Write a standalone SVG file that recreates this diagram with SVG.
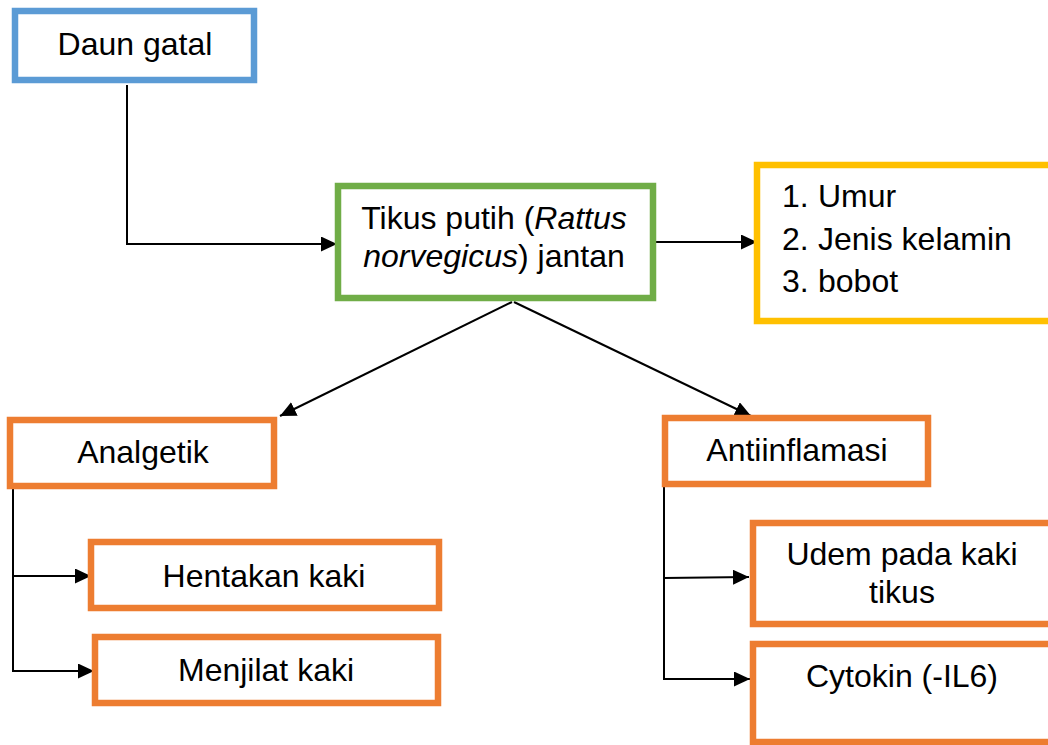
<svg xmlns="http://www.w3.org/2000/svg" width="1048" height="745" viewBox="0 0 1048 745">
  <style>
    .box { fill: #ffffff; stroke-width: 6.5; }
    .blue { stroke: #5B9BD5; }
    .green { stroke: #70AD47; }
    .yellow { stroke: #FFC000; }
    .orange { stroke: #ED7D31; }
    .lbl { font-family: "Liberation Sans", Arial, sans-serif; font-size: 32px; fill: #000000; }
    .mid { text-anchor: middle; }
    .link { fill: none; stroke: #000000; stroke-width: 2; }
  </style>
  <defs>
    <marker id="arrow" markerUnits="userSpaceOnUse" markerWidth="17" markerHeight="16" refX="16" refY="7.5" orient="auto">
      <path d="M0,0 L16,7.5 L0,15 z" fill="#000000"/>
    </marker>
  </defs>
  <rect width="1048" height="745" fill="#ffffff"/>

  <g id="connectors">
    <polyline class="link" points="127,85 127,244 337,244" marker-end="url(#arrow)"/>
    <line class="link" x1="656" y1="242" x2="757" y2="242" marker-end="url(#arrow)"/>
    <line class="link" x1="512" y1="302" x2="280" y2="416" marker-end="url(#arrow)"/>
    <line class="link" x1="514" y1="302" x2="751" y2="416" marker-end="url(#arrow)"/>
    <polyline class="link" points="13,487 13,672"/>
    <line class="link" x1="13" y1="576" x2="91" y2="576" marker-end="url(#arrow)"/>
    <line class="link" x1="13" y1="671" x2="94" y2="671" marker-end="url(#arrow)"/>
    <polyline class="link" points="664,487 664,680"/>
    <line class="link" x1="664" y1="578" x2="749" y2="577" marker-end="url(#arrow)"/>
    <line class="link" x1="664" y1="679" x2="750" y2="679" marker-end="url(#arrow)"/>
  </g>

  <g id="daun-gatal">
    <rect class="box blue" x="15" y="11" width="239" height="69"/>
    <text class="lbl mid" x="135" y="55">Daun gatal</text>
  </g>

  <g id="tikus-putih">
    <rect class="box green" x="338" y="186" width="315" height="112"/>
    <text class="lbl mid" x="494" y="229">Tikus putih (<tspan font-style="italic">Rattus</tspan></text>
    <text class="lbl mid" x="494" y="267"><tspan font-style="italic">norvegicus</tspan>) jantan</text>
  </g>

  <g id="variabel">
    <rect class="box yellow" x="757" y="165" width="300" height="156"/>
    <text class="lbl" x="782" y="207">1.</text>
    <text class="lbl" x="818" y="207">Umur</text>
    <text class="lbl" x="782" y="250">2.</text>
    <text class="lbl" x="818" y="250">Jenis kelamin</text>
    <text class="lbl" x="782" y="292">3.</text>
    <text class="lbl" x="818" y="292">bobot</text>
  </g>

  <g id="analgetik">
    <rect class="box orange" x="10" y="420" width="264" height="66"/>
    <text class="lbl mid" x="143" y="463">Analgetik</text>
  </g>

  <g id="hentakan-kaki">
    <rect class="box orange" x="91" y="542" width="348" height="66"/>
    <text class="lbl mid" x="264" y="587">Hentakan kaki</text>
  </g>

  <g id="menjilat-kaki">
    <rect class="box orange" x="95" y="637" width="343" height="66"/>
    <text class="lbl mid" x="266" y="681">Menjilat kaki</text>
  </g>

  <g id="antiinflamasi">
    <rect class="box orange" x="665" y="418" width="263" height="66"/>
    <text class="lbl mid" x="797" y="461">Antiinflamasi</text>
  </g>

  <g id="udem">
    <rect class="box orange" x="753" y="523" width="304" height="101"/>
    <text class="lbl mid" x="902" y="565">Udem pada kaki</text>
    <text class="lbl mid" x="902" y="603">tikus</text>
  </g>

  <g id="cytokin">
    <rect class="box orange" x="753" y="644" width="304" height="98"/>
    <text class="lbl mid" x="902" y="687">Cytokin (-IL6)</text>
  </g>
</svg>
